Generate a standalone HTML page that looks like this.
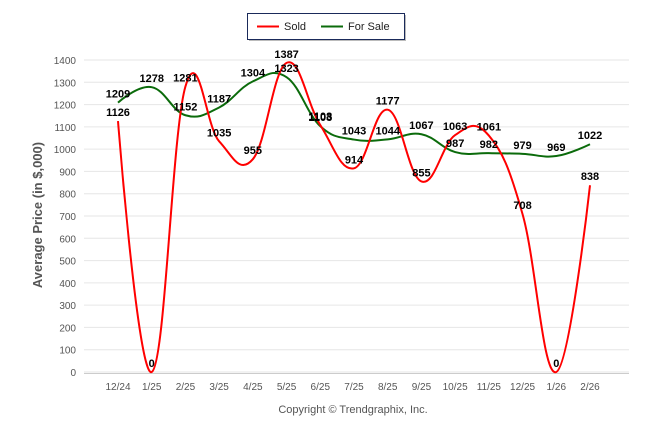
<!DOCTYPE html>
<html><head><meta charset="utf-8"><style>
body{margin:0;background:#fff;font-family:"Liberation Sans",Arial,sans-serif}
svg text{font-family:"Liberation Sans",Arial,sans-serif}
</style></head><body>
<svg id="c" width="646" height="434"></svg>
<script>
const categories=["12/24","1/25","2/25","3/25","4/25","5/25","6/25","7/25","8/25","9/25","10/25","11/25","12/25","1/26","2/26"];
const soldValues=[1126,0,1281,1035,955,1387,1108,914,1177,855,1063,1061,708,0,838];
const forSaleValues=[1209,1278,1152,1187,1304,1323,1103,1043,1044,1067,987,982,979,969,1022];
const yTicks=[0,100,200,300,400,500,600,700,800,900,1000,1100,1200,1300,1400];
const NS="http://www.w3.org/2000/svg";
const svg=document.getElementById('c');
const x0=118,x1=590,yb=372,yt=60;
const xs=i=>x0+(x1-x0)*i/(categories.length-1);
const ys=v=>yb-(yb-yt)*v/1400;
function mk(t,a,p){const e=document.createElementNS(NS,t);for(const k in a)e.setAttribute(k,a[k]);(p||svg).appendChild(e);return e;}
yTicks.forEach(v=>{
 const g=mk('line',{x1:84,x2:629,y1:ys(v),y2:ys(v),stroke:'#e6e6e6','stroke-width':1});
 
 
 const t=mk('text',{x:76,y:ys(v)+4,'text-anchor':'end','font-size':10,fill:'#555'});t.textContent=v;
 
 
});
const ax=mk('line',{x1:84,x2:629,y1:373.5,y2:373.5,stroke:'#ccc'});


categories.forEach((c,i)=>{
 const t=mk('text',{x:xs(i),y:390,'text-anchor':'middle','font-size':10,fill:'#555'});t.textContent=c;
 
 
});
function spline(vals){
 const P=vals.map((v,i)=>[xs(i),ys(v)]);const s=1.5,d=s+1;
 let path='M'+P[0][0]+' '+P[0][1];
 const cps=[];
 for(let i=0;i<P.length;i++){
  if(i===0||i===P.length-1){cps.push([P[i],P[i]]);continue;}
  const [px,py]=P[i-1],[cx,cy]=P[i],[nx,ny]=P[i+1];
  let lx=(s*cx+px)/d,ly=(s*cy+py)/d,rx=(s*cx+nx)/d,ry=(s*cy+ny)/d;
  const corr=((ry-ly)*(rx-cx))/(rx-lx)+cy-ry;ly+=corr;ry+=corr;
  cps.push([[lx,ly],[rx,ry]]);
 }
 for(let i=1;i<P.length;i++){path+=` C${cps[i-1][1][0]} ${cps[i-1][1][1]} ${cps[i][0][0]} ${cps[i][0][1]} ${P[i][0]} ${P[i][1]}`;}
 return path;
}
const fs=mk('path',{d:spline(forSaleValues),fill:'none',stroke:'#0b6b0b','stroke-width':2});


const sd=mk('path',{d:spline(soldValues),fill:'none',stroke:'#f00','stroke-width':2});


function labels(vals,name){vals.forEach((v,i)=>{
 const t=mk('text',{x:xs(i),y:ys(v)-5,'text-anchor':'middle','font-size':11,'font-weight':'bold',fill:'#000'});t.textContent=v;
 
 
});}
labels(soldValues,'sold-value-label');labels(forSaleValues,'for-sale-value-label');
const yt2=mk('text',{x:0,y:0,transform:'translate(42,215) rotate(-90)','text-anchor':'middle','font-size':13,'font-weight':'bold',fill:'#555'});
yt2.textContent='Average Price (in $,000)';


const cp=mk('text',{x:353,y:413,'text-anchor':'middle','font-size':11,fill:'#555'});cp.textContent='Copyright © Trendgraphix, Inc.';


const lg=mk('g',{});


mk('rect',{x:249,y:15,width:157,height:26,fill:'#bbb'},lg);
mk('rect',{x:247.5,y:13.5,width:157,height:26,fill:'#fff',stroke:'#1a2a5a'},lg);
mk('line',{x1:257,x2:279,y1:26.5,y2:26.5,stroke:'#f00','stroke-width':2},lg);
const l1=mk('text',{x:284,y:30,'font-size':11,fill:'#222'},lg);l1.textContent='Sold';


mk('line',{x1:321,x2:343,y1:26.5,y2:26.5,stroke:'#0b6b0b','stroke-width':2},lg);
const l2=mk('text',{x:348,y:30,'font-size':11,fill:'#222'},lg);l2.textContent='For Sale';


</script>
</body></html>
